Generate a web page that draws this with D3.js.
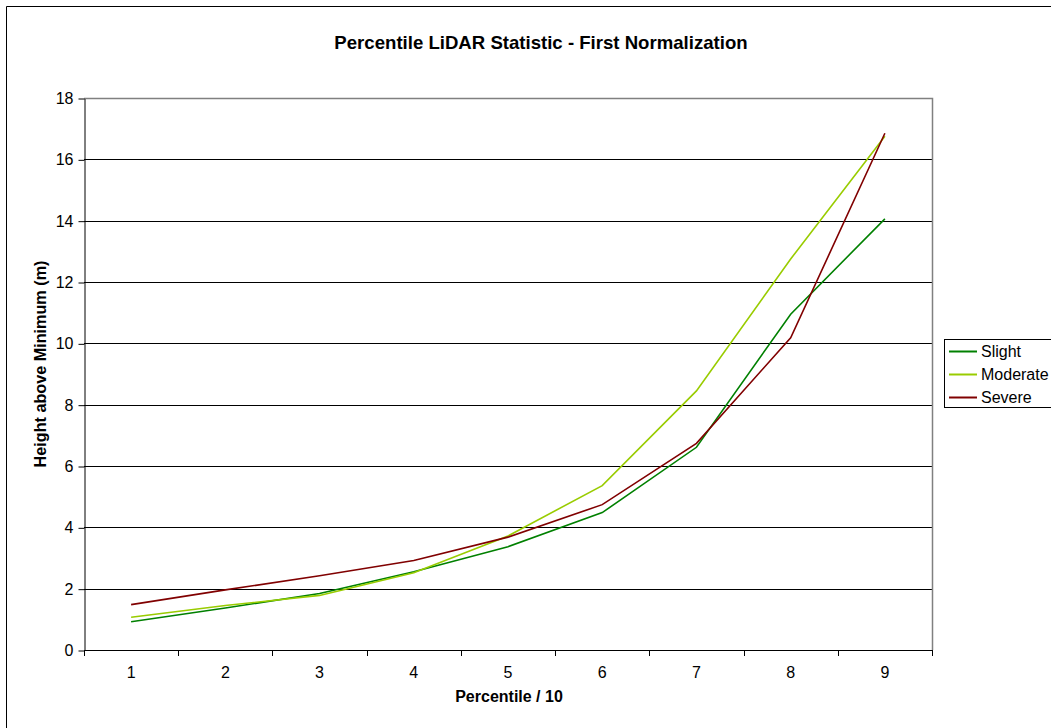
<!DOCTYPE html>
<html><head><meta charset="utf-8">
<script src="https://cdn.jsdelivr.net/npm/d3@7"></script>
<style>body{margin:0;background:#fff}svg{display:block}text{font-family:"Liberation Sans",Arial,sans-serif}</style>
</head><body>
<script>
const categories = [1,2,3,4,5,6,7,8,9];
const slight   = [0.92,1.37,1.84,2.55,3.37,4.48,6.61,10.95,14.06];
const moderate = [1.07,1.45,1.78,2.52,3.72,5.36,8.45,12.75,16.75];
const severe   = [1.48,1.96,2.42,2.92,3.68,4.74,6.74,10.18,16.85];
const seriesNames = ["Slight","Moderate","Severe"];
const seriesColors = ["#008000","#99CC00","#800000"];
const yTicks = [0,2,4,6,8,10,12,14,16,18];

const W=1051,H=728;
const m={l:84,t:98,r:932,b:650};
const FONT="Liberation Sans, Arial, sans-serif";
const svg=d3.select("body").append("svg").attr("width",W).attr("height",H);

// outer chart border (left/top visible)
svg.append("path").attr("d","M6.5,728V6.5H1051").attr("fill","none").attr("stroke","#000").attr("stroke-width",1);

const x=d3.scaleBand().domain(categories).range([m.l,m.r]).padding(0);
const y=d3.scaleLinear().domain([0,18]).range([m.b,m.t]);

// gridlines
svg.append("g").selectAll("line").data(yTicks.filter(d=>d>0&&d<18)).join("line")
 .attr("x1",m.l).attr("x2",m.r).attr("y1",d=>Math.round(y(d))+0.5).attr("y2",d=>Math.round(y(d))+0.5)
 .attr("stroke","#000").attr("stroke-width",1);
// plot border top/right grey
svg.append("path").attr("d",`M${m.l},${m.t+0.5}H${m.r+0.5}V${m.b}`).attr("fill","none").attr("stroke","#808080").attr("stroke-width",1.5);

// y axis
const ya=svg.append("g").attr("transform",`translate(${m.l+0.5},0.5)`)
 .call(d3.axisLeft(y).tickValues(yTicks).tickSize(6).tickPadding(5).tickSizeOuter(0));
ya.select(".domain").attr("stroke","#000");
ya.selectAll("line").attr("stroke","#000");
ya.selectAll("text").attr("font-size",16).attr("fill","#000").attr("font-family",FONT);

// x axis
const xa=svg.append("g").attr("transform",`translate(0,${m.b+0.5})`)
 .call(d3.axisBottom(x).tickSize(0).tickPadding(16));
xa.select(".domain").attr("stroke","#000").attr("d",`M${m.l},0H${m.r+0.5}`);
xa.selectAll("text").attr("font-size",16).attr("fill","#000").attr("font-family",FONT);
// tick marks at band boundaries
const bounds=categories.map(c=>x(c)).concat([x(categories[categories.length-1])+x.bandwidth()]);
svg.append("g").selectAll("line").data(bounds).join("line")
 .attr("x1",d=>Math.round(d)+0.5).attr("x2",d=>Math.round(d)+0.5).attr("y1",m.b).attr("y2",m.b+6)
 .attr("stroke","#000");

// lines
const line=d3.line().x((d,i)=>x(categories[i])+x.bandwidth()/2).y(d=>y(d));
[slight,moderate,severe].forEach((s,i)=>{
  svg.append("path").datum(s).attr("d",line).attr("fill","none").attr("stroke",seriesColors[i]).attr("stroke-width",1.6);
});

// title
svg.append("text").attr("x",541).attr("y",49).attr("text-anchor","middle").attr("font-size",18.6).attr("font-weight","bold").text("Percentile LiDAR Statistic - First Normalization");
// axis titles
svg.append("text").attr("x",509).attr("y",702).attr("text-anchor","middle").attr("font-size",16).attr("font-weight","bold").text("Percentile / 10");
svg.append("text").attr("transform","translate(46,364) rotate(-90)").attr("text-anchor","middle").attr("font-size",16.2).attr("font-weight","bold").text("Height above Minimum (m)");

// legend
const lg=svg.append("g");
lg.append("rect").attr("x",944.5).attr("y",339.5).attr("width",120).attr("height",68).attr("fill","#fff").attr("stroke","#000");
seriesNames.forEach((n,i)=>{
  const yy=351.5+i*23;
  lg.append("line").attr("x1",949).attr("x2",977).attr("y1",yy).attr("y2",yy).attr("stroke",seriesColors[i]).attr("stroke-width",2);
  lg.append("text").attr("x",981).attr("y",yy+5.5).attr("font-size",16).text(n);
});
</script>
</body></html>
